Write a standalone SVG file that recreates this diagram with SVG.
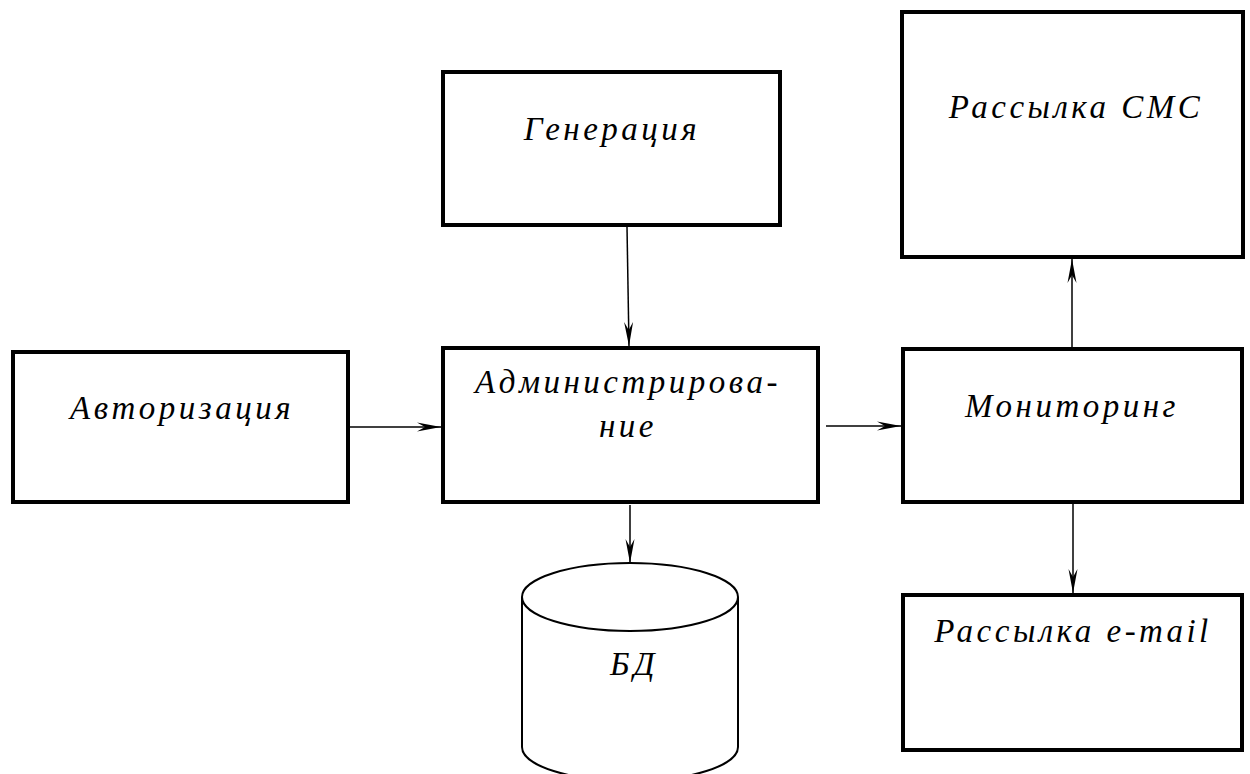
<svg xmlns="http://www.w3.org/2000/svg" width="1250" height="774" viewBox="0 0 1250 774">
<style>
.box{fill:#fff;stroke:#000;stroke-width:4}
.db{fill:#fff;stroke:#000;stroke-width:2}
.lbl{font-family:"Liberation Serif",serif;font-style:italic;font-size:33px;fill:#000;text-anchor:middle;letter-spacing:3.5px}
.con{stroke:#000;stroke-width:1.5;fill:none;marker-end:url(#arr)}
</style>
<defs>
<marker id="arr" viewBox="0 0 24 10" refX="24" refY="5" markerWidth="24" markerHeight="10" markerUnits="userSpaceOnUse" orient="auto">
<path d="M0,0.5 L24,5 L0,9.5 L8,5 Z" fill="#000"/>
</marker>
</defs>
<rect width="1250" height="774" fill="#fff"/>
<g id="connectors">
<path class="con" d="M350,427 L441,427"/>
<path class="con" d="M627,227 L629,346"/>
<path class="con" d="M826,426 L901,426"/>
<path class="con" d="M1072,347 L1072,259"/>
<path class="con" d="M1073,504 L1073,593"/>
<path class="con" d="M630,505 L630,563"/>
</g>
<g id="avtorizatsiya">
<rect class="box" x="13" y="352" width="335" height="150"/>
<text class="lbl" x="182" y="419">Авторизация</text>
</g>
<g id="generatsiya">
<rect class="box" x="443" y="72" width="337" height="153"/>
<text class="lbl" x="612" y="140">Генерация</text>
</g>
<g id="administrirovanie">
<rect class="box" x="443" y="348" width="375" height="154"/>
<text class="lbl" x="628" y="393">Администрирова-</text>
<text class="lbl" x="628" y="437">ние</text>
</g>
<g id="monitoring">
<rect class="box" x="903" y="349" width="339" height="153"/>
<text class="lbl" x="1072" y="417">Мониторинг</text>
</g>
<g id="rassylka-sms">
<rect class="box" x="902" y="12" width="341" height="245"/>
<text class="lbl" x="1076" y="118">Рассылка СМС</text>
</g>
<g id="rassylka-email">
<rect class="box" x="903" y="595" width="339" height="155"/>
<text class="lbl" x="1073" y="642">Рассылка e-mail</text>
</g>
<g id="bd">
<path class="db" d="M522,597 L522,747 A108,34 0 0 0 738,747 L738,597"/>
<ellipse class="db" cx="630" cy="597" rx="108" ry="34"/>
<text class="lbl" x="634" y="675">БД</text>
</g>
</svg>
